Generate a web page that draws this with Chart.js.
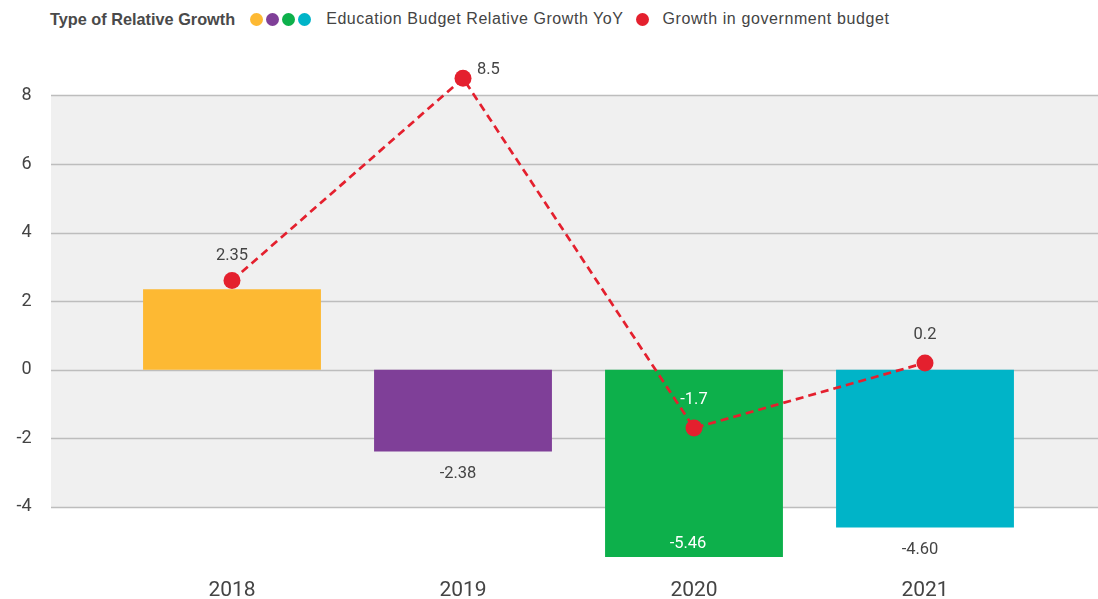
<!DOCTYPE html>
<html lang="en">
<head>
  <meta charset="UTF-8">
  <title>Education budget growth</title>
  <script src="https://cdn.jsdelivr.net/npm/chart.js"></script>
  <style>
    body { margin: 0; background: #fff; font-family: "Liberation Sans", Arial, sans-serif; }
    .legend { height: 38px; display: flex; align-items: center; font-size: 16px; color: #444; padding-left: 50px; }
    .legend b { margin-right: 15px; color: #4a4a4a; font-size: 16.3px; }
    .dot { display: inline-block; width: 13px; height: 13px; border-radius: 50%; margin-right: 3px; }
    .legend .txt { margin-left: 12px; margin-right: 13px; letter-spacing: 0.55px; }
    .legend .txt.last { margin-left: 10px; letter-spacing: 0.6px; }
    .wrap { position: relative; width: 1098px; height: 561px; }
  </style>
</head>
<body>

<div class="legend">
  <b>Type of Relative Growth</b>
  <span class="dot" style="background:#FDB933"></span>
  <span class="dot" style="background:#7F3F98"></span>
  <span class="dot" style="background:#0DB04B"></span>
  <span class="dot" style="background:#00B4C8"></span>
  <span class="txt">Education Budget Relative Growth YoY</span>
  <span class="dot" style="background:#E4202E"></span>
  <span class="txt last">Growth in government budget</span>
</div>

<div class="wrap"><canvas id="chart"></canvas></div>

<script>
  // === Data ===
  const years = ["2018", "2019", "2020", "2021"];
  const educationGrowth = [2.35, -2.38, -5.46, -4.60];
  const govGrowth = [2.6, 8.5, -1.7, 0.2];
  const yTicks = [-4, -2, 0, 2, 4, 6, 8];

  const barColors = ["#FDB933", "#7F3F98", "#0DB04B", "#00B4C8"];
  const red = "#E4202E";

  // grey panel + gridlines, wider than the category area
  const panelPlugin = {
    id: "panel",
    beforeDatasetsDraw(chart) {
      const { ctx, scales: { y } } = chart;
      const left = 51, right = chart.width;
      const top = y.getPixelForValue(yTicks[yTicks.length - 1]);
      const bottom = y.getPixelForValue(yTicks[0]);
      ctx.save();
      ctx.fillStyle = "#f0f0f0";
      ctx.fillRect(left, top, right - left, bottom - top);
      ctx.strokeStyle = "#bdbdbd";
      ctx.lineWidth = 1.5;
      yTicks.forEach(v => {
        const py = Math.round(y.getPixelForValue(v)) + 0.5;
        ctx.beginPath();
        ctx.moveTo(left, py);
        ctx.lineTo(right, py);
        ctx.stroke();
      });
      ctx.restore();
    }
  };

  // value labels
  const labelPlugin = {
    id: "valueLabels",
    afterDatasetsDraw(chart) {
      const { ctx, chartArea } = chart;
      const bars = chart.getDatasetMeta(0).data;
      const pts = chart.getDatasetMeta(1).data;
      ctx.save();
      ctx.font = "16.5px Roboto";
      ctx.textAlign = "center";
      ctx.textBaseline = "middle";
      bars.forEach((bar, i) => {
        const v = educationGrowth[i];
        const txt = v.toFixed(2);
        const g = govGrowth[i];
        const pt = pts[i];
        ctx.fillStyle = "#444";
        if (v > 0) {
          // collides with the dot: put the bar value above the dot
          if (Math.abs(g - v) < 0.6) ctx.fillText(txt, pt.x, pt.y - 25);
          else ctx.fillText(txt, bar.x, bar.y - 14);
        } else {
          const below = bar.y + 22;
          if (below + 8 > chartArea.bottom) {
            ctx.fillStyle = "#fff";
            ctx.fillText(txt, bar.x - 6, bar.y - 13);
          } else {
            ctx.fillText(txt, bar.x - 5, below);
          }
        }
      });
      pts.forEach((pt, i) => {
        const v = govGrowth[i];
        const b = educationGrowth[i];
        if (b > 0 && Math.abs(v - b) < 0.6) return;
        const txt = String(v);
        let x = pt.x, yy = pt.y - 28;
        ctx.textAlign = "center";
        if (yy - 8 < chartArea.top) {
          ctx.textAlign = "left";
          x = pt.x + 14;
          yy = pt.y - 8;
        }
        ctx.fillStyle = (b < 0 && v < 0 && v > b) ? "#fff" : "#444";
        ctx.fillText(txt, x, yy);
      });
      ctx.restore();
    }
  };

  new Chart(document.getElementById("chart"), {
    data: {
      labels: years,
      datasets: [
        {
          type: "bar",
          label: "Education Budget Relative Growth YoY",
          data: educationGrowth,
          backgroundColor: barColors,
          barPercentage: 0.77,
          categoryPercentage: 1,
          order: 2
        },
        {
          type: "line",
          label: "Growth in government budget",
          data: govGrowth,
          borderColor: red,
          backgroundColor: red,
          borderWidth: 2.7,
          borderDash: [8, 5],
          pointRadius: 8.5,
          pointHoverRadius: 8.5,
          pointBorderWidth: 0,
          tension: 0,
          order: 1
        }
      ]
    },
    options: {
      responsive: true,
      maintainAspectRatio: false,
      animation: false,
      layout: { padding: { top: 30, right: 57.5, bottom: 0, left: 0 } },
      plugins: {
        legend: { display: false },
        tooltip: { enabled: false }
      },
      scales: {
        x: {
          offset: true,
          grid: { display: false, drawTicks: false },
          border: { display: false },
          afterFit: s => { s.height -= 20; },
          ticks: { color: "#444", font: { family: "Roboto", size: 21 }, padding: 16 }
        },
        y: {
          min: -5.6,
          max: 8.8,
          grid: { display: false, drawTicks: false },
          border: { display: false },
          afterBuildTicks: s => { s.ticks = yTicks.map(v => ({ value: v })); },
          afterFit: s => { s.width = 116.5; s.paddingTop = 0; s.paddingBottom = 0; },
          ticks: { color: "#444", font: { family: "Roboto", size: 18 }, padding: 85 }
        }
      }
    },
    plugins: [panelPlugin, labelPlugin]
  });
</script>

</body>
</html>
